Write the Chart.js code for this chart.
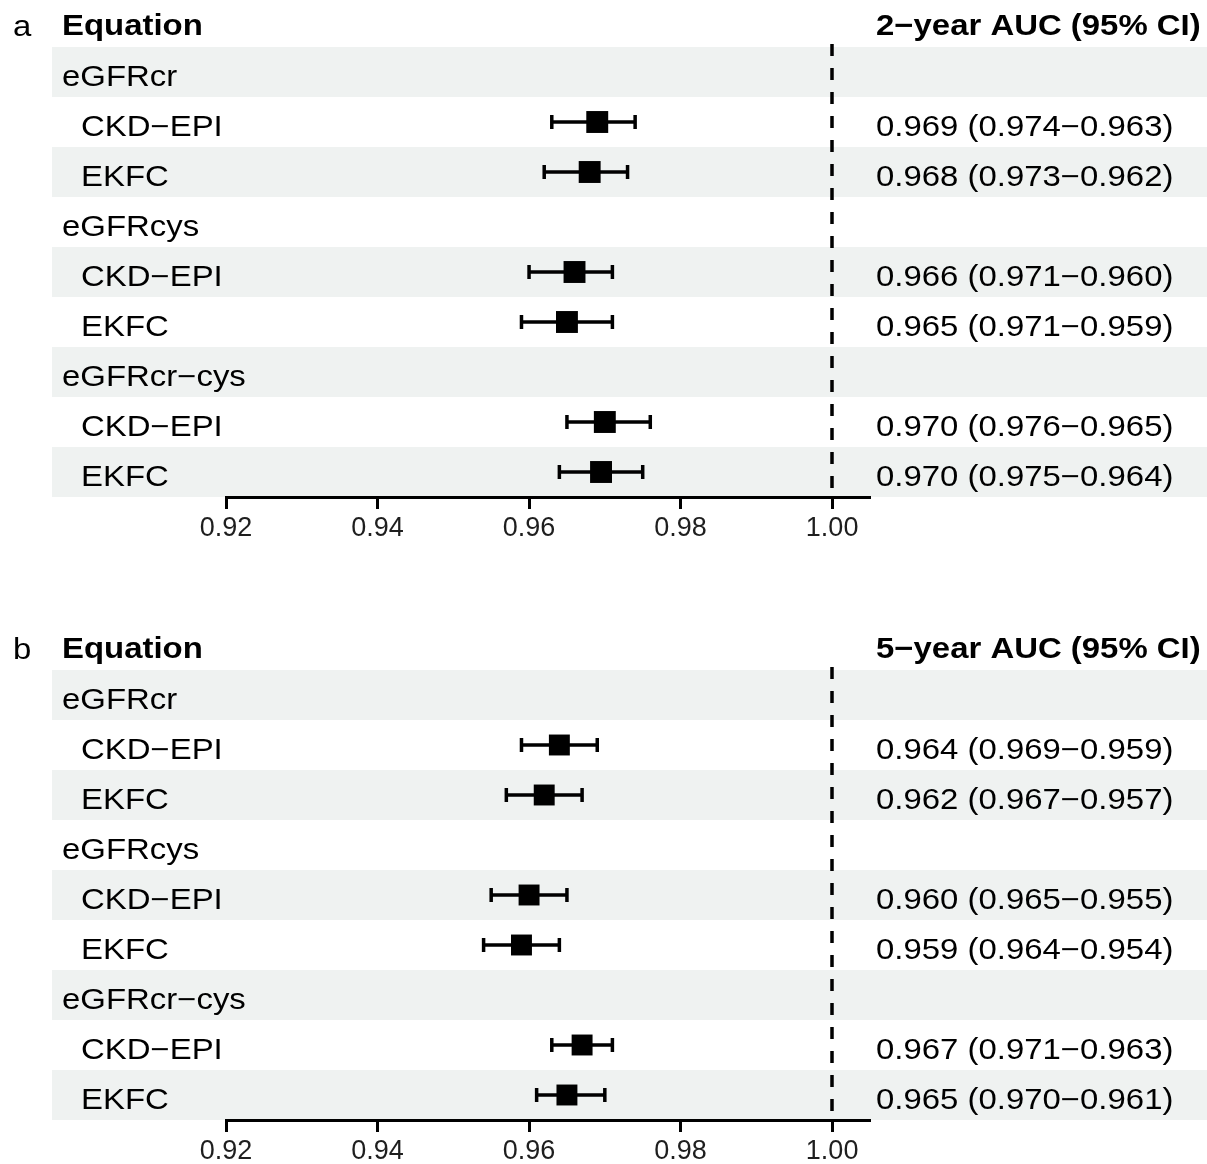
<!DOCTYPE html>
<html>
<head>
<meta charset="utf-8">
<script src="https://cdn.jsdelivr.net/npm/chart.js@4.4.1/dist/chart.umd.min.js"></script>
<style>
html,body{margin:0;padding:0;background:#fff;}
#wrap{position:relative;width:1207px;height:1164px;}
canvas{position:absolute;left:0;}
#chartA{top:0;}
#chartB{top:623px;}
</style>
</head>
<body>
<div id="wrap">
<canvas id="chartA" width="1207" height="541"></canvas>
<canvas id="chartB" width="1207" height="541"></canvas>
</div>
<script>
// Dữ liệu
const rowLabels = ['eGFRcr', 'CKD−EPI', 'EKFC', 'eGFRcys', 'CKD−EPI', 'EKFC', 'eGFRcr−cys', 'CKD−EPI', 'EKFC'];
const rowIsGroup = [true, false, false, true, false, false, true, false, false];
const xTicks = [0.92, 0.94, 0.96, 0.98, 1.00];
const xMin = 0.92;
const xMax = 1.005;
const refValue = 1;

const aucA = [null, 0.969, 0.968, null, 0.966, 0.965, null, 0.970, 0.9695];
const loA = [null, 0.963, 0.962, null, 0.960, 0.959, null, 0.965, 0.964];
const hiA = [null, 0.974, 0.973, null, 0.971, 0.971, null, 0.976, 0.975];
const ciTextA = ['', '0.969 (0.974−0.963)', '0.968 (0.973−0.962)', '', '0.966 (0.971−0.960)', '0.965 (0.971−0.959)', '', '0.970 (0.976−0.965)', '0.970 (0.975−0.964)'];

const aucB = [null, 0.964, 0.962, null, 0.960, 0.959, null, 0.967, 0.965];
const loB = [null, 0.959, 0.957, null, 0.955, 0.954, null, 0.963, 0.961];
const hiB = [null, 0.969, 0.967, null, 0.965, 0.964, null, 0.971, 0.970];
const ciTextB = ['', '0.964 (0.969−0.959)', '0.962 (0.967−0.957)', '', '0.960 (0.965−0.955)', '0.959 (0.964−0.954)', '', '0.967 (0.971−0.963)', '0.965 (0.970−0.961)'];

const FONT = '"Liberation Sans", Arial, sans-serif';
const STRETCH = 1.135;

function drawText(ctx, txt, x, y, bold) {
    ctx.save();
    ctx.font = (bold ? 'bold ' : '') + '29px ' + FONT;
    ctx.fillStyle = '#000';
    ctx.textBaseline = 'alphabetic';
    ctx.textAlign = 'left';
    ctx.translate(x, y);
    ctx.scale(STRETCH, 1);
    ctx.fillText(txt, 0, 0);
    ctx.restore();
}

// Plugin vẽ bảng + khoảng tin cậy
function makeForestPlugin(tag, header, lo, hi, ciText) {
    return {
        id: 'forest',
        beforeDraw(chart) {
            const ctx = chart.ctx, ys = chart.scales.y;
            ctx.save();
            ctx.fillStyle = '#fff';
            ctx.fillRect(0, 0, chart.width, chart.height);
            for (let i = 0; i < rowLabels.length; i++) {
                if (i % 2 !== 0) continue;
                const top = ys.getPixelForValue(i - 0.5);
                const bottom = ys.getPixelForValue(i + 0.5);
                ctx.fillStyle = '#eff2f1';
                ctx.fillRect(52, top, chart.width - 52, bottom - top);
            }
            ctx.restore();
            drawText(ctx, tag, 13, 36, false);
            drawText(ctx, 'Equation', 62, 35, true);
            drawText(ctx, header, 876, 35, true);
            rowLabels.forEach((lab, i) => {
                const yb = ys.getPixelForValue(i) + 14;
                drawText(ctx, lab, rowIsGroup[i] ? 62 : 81, yb, false);
                if (ciText[i]) drawText(ctx, ciText[i], 876, yb, false);
            });
        },
        beforeDatasetsDraw(chart) {
            const ctx = chart.ctx, xs = chart.scales.x, ys = chart.scales.y, area = chart.chartArea;
            ctx.save();
            ctx.strokeStyle = '#000';
            ctx.lineWidth = 3.5;
            ctx.setLineDash([12, 12]);
            const xr = Math.round(xs.getPixelForValue(refValue));
            ctx.beginPath();
            ctx.moveTo(xr, area.top - 3);
            ctx.lineTo(xr, area.bottom);
            ctx.stroke();
            ctx.setLineDash([]);
            ctx.lineWidth = 3.5;
            lo.forEach((l, i) => {
                if (l == null) return;
                const x0 = xs.getPixelForValue(l);
                const x1 = xs.getPixelForValue(hi[i]);
                const y = ys.getPixelForValue(i);
                ctx.beginPath();
                ctx.moveTo(x0, y); ctx.lineTo(x1, y);
                ctx.moveTo(x0, y - 7); ctx.lineTo(x0, y + 7);
                ctx.moveTo(x1, y - 7); ctx.lineTo(x1, y + 7);
                ctx.stroke();
            });
            ctx.restore();
        }
    };
}

function makeForest(canvasId, tag, header, auc, lo, hi, ciText, radius) {
    const points = auc.map((v, i) => v == null ? null : { x: v, y: i }).filter(p => p);
    return new Chart(document.getElementById(canvasId), {
        type: 'scatter',
        data: {
            datasets: [{
                data: points,
                pointStyle: 'rect',
                pointRadius: radius,
                pointHoverRadius: radius,
                backgroundColor: '#000',
                borderWidth: 0
            }]
        },
        options: {
            responsive: false,
            animation: false,
            events: [],
            layout: { padding: { left: 226, right: 337, top: 47, bottom: 0 } },
            plugins: { legend: { display: false }, tooltip: { enabled: false } },
            scales: {
                x: {
                    type: 'linear',
                    min: xMin,
                    max: xMax,
                    afterBuildTicks: s => { s.ticks = xTicks.map(v => ({ value: v })); },
                    afterFit: s => { s.height = 44; },
                    ticks: {
                        callback: v => Number(v).toFixed(2),
                        font: { size: 27, family: FONT },
                        color: '#1e1e1e',
                        padding: 3,
                        maxRotation: 0,
                        autoSkip: false
                    },
                    grid: { display: true, drawOnChartArea: false, drawTicks: true, tickLength: 12, tickWidth: 3, tickColor: '#000' },
                    border: { display: true, color: '#000', width: 3 }
                },
                y: { type: 'linear', display: false, min: -0.5, max: 8.5, reverse: true }
            }
        },
        plugins: [makeForestPlugin(tag, header, lo, hi, ciText)]
    });
}

makeForest('chartA', 'a', '2−year AUC (95% CI)', aucA, loA, hiA, ciTextA, 15.5);
makeForest('chartB', 'b', '5−year AUC (95% CI)', aucB, loB, hiB, ciTextB, 14.8);
</script>
</body>
</html>
